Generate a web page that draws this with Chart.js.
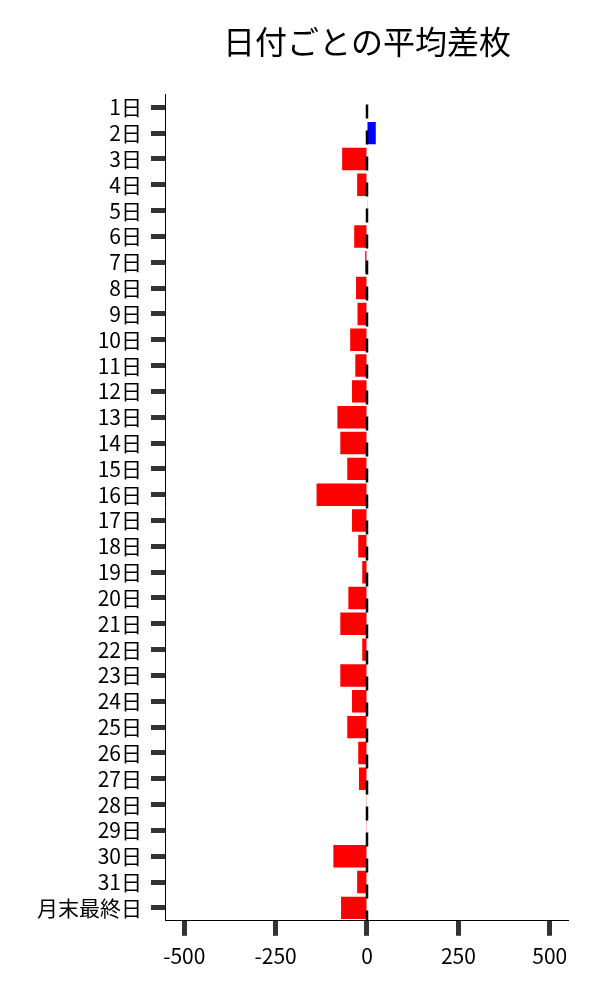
<!DOCTYPE html>
<html lang="ja">
<head>
<meta charset="utf-8">
<script src="https://cdn.jsdelivr.net/npm/chart.js@4.4.1/dist/chart.umd.min.js"></script>
<style>
    html, body { margin: 0; padding: 0; background: #fff; }
    #wrap { width: 600px; height: 1000px; position: relative; }
</style>
</head>
<body>
<div id="wrap"><canvas id="diffChart"></canvas></div>
<script>
// 日付ラベル
const days = [
    '1日', '2日', '3日', '4日', '5日', '6日', '7日', '8日', '9日', '10日',
    '11日', '12日', '13日', '14日', '15日', '16日', '17日', '18日', '19日', '20日',
    '21日', '22日', '23日', '24日', '25日', '26日', '27日', '28日', '29日', '30日',
    '31日', '月末最終日'
];

// 平均差枚
const avgDiff = [
    0, 24, -68, -27, 1, -35, -5, -30, -26, -46,
    -32, -41, -81, -73, -54, -138, -41, -24, -13, -51,
    -73, -13, -73, -41, -54, -24, -22, -2, -2, -92,
    -27, -71
];

const xTicks = [-500, -250, 0, 250, 500];

const FONT = "'Noto Sans CJK JP', 'Noto Sans', sans-serif";

// x=0 の破線
const zeroLine = {
    id: 'zeroLine',
    afterDatasetsDraw(chart) {
        const { ctx, chartArea, scales } = chart;
        const x = scales.x.getPixelForValue(0);
        ctx.save();
        ctx.strokeStyle = '#000';
        ctx.lineWidth = 2.5;
        ctx.setLineDash([14, 12]);
        ctx.beginPath();
        ctx.moveTo(x, chartArea.top + 10);
        ctx.lineTo(x, chartArea.bottom);
        ctx.stroke();
        ctx.restore();
    }
};

new Chart(document.getElementById('diffChart').getContext('2d'), {
    type: 'bar',
    data: {
        labels: days,
        datasets: [{
            label: '平均差枚',
            data: avgDiff,
            backgroundColor: avgDiff.map(v => v >= 0 ? '#0000ff' : '#ff0000'),
            borderWidth: 0,
            barPercentage: 0.87,
            categoryPercentage: 1.0
        }]
    },
    options: {
        indexAxis: 'y',
        responsive: true,
        maintainAspectRatio: false,
        animation: false,
        layout: { padding: { left: 28, right: 32, top: 10, bottom: 23 } },
        plugins: {
            legend: { display: false },
            tooltip: { enabled: false },
            title: {
                display: true,
                text: '日付ごとの平均差枚',
                fullSize: false,
                color: '#000',
                font: { family: FONT, size: 32, weight: 'normal' },
                padding: { top: 13, bottom: 33 }
            }
        },
        scales: {
            x: {
                min: -550,
                max: 550,
                afterBuildTicks: (axis) => { axis.ticks = xTicks.map(v => ({ value: v })); },
                grid: {
                    drawOnChartArea: false,
                    drawTicks: true,
                    tickLength: 15,
                    tickWidth: 5,
                    tickColor: '#333'
                },
                border: { display: true, color: '#000', width: 1 },
                ticks: {
                    color: '#000',
                    padding: 8,
                    maxRotation: 0,
                    font: { family: FONT, size: 21 }
                }
            },
            y: {
                offset: true,
                grid: {
                    drawOnChartArea: false,
                    drawTicks: true,
                    tickLength: 15,
                    tickWidth: 5,
                    tickColor: '#333',
                    offset: false
                },
                border: { display: true, color: '#000', width: 1 },
                ticks: {
                    color: '#000',
                    padding: 9,
                    autoSkip: false,
                    font: { family: FONT, size: 21 }
                }
            }
        }
    },
    plugins: [zeroLine]
});
</script>
</body>
</html>
